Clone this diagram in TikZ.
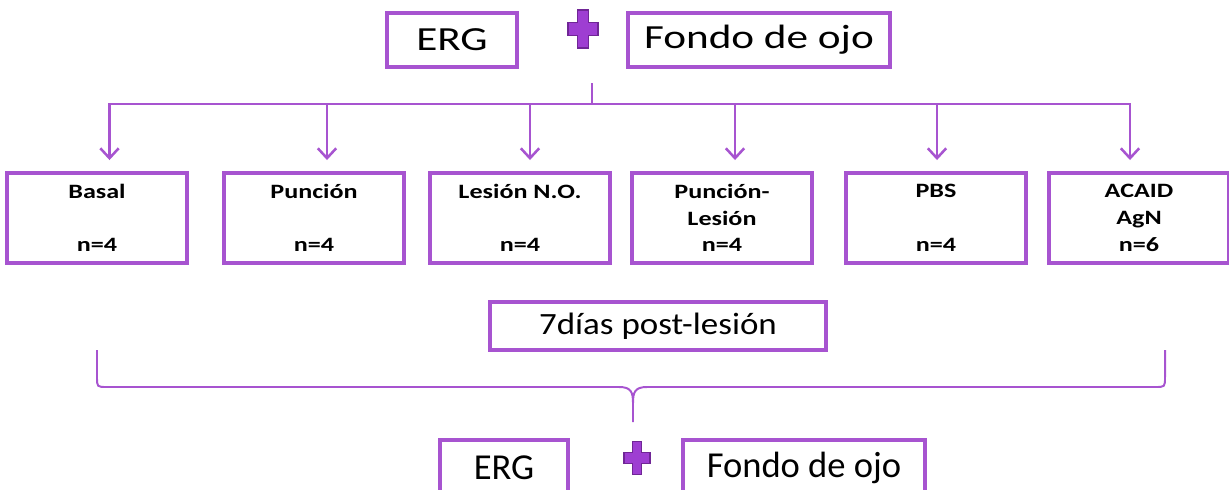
\documentclass[tikz,border=0pt]{standalone}
\usepackage{fontspec}
\setmainfont{Carlito}
\newfontfamily\widefont[FakeStretch=1.28]{Carlito}
\newfontfamily\midfont[FakeStretch=1.13]{Carlito}
\usetikzlibrary{arrows.meta,calc}
\definecolor{boxpurple}{RGB}{167,84,208}
\definecolor{pluspurple}{RGB}{158,62,210}
\definecolor{plusedge}{RGB}{112,38,150}
\tikzset{
  headbox/.style={draw=boxpurple, line width=2.8pt, inner sep=0pt, minimum height=1.35cm,
    font=\widefont\fontsize{24}{28}\selectfont},
  groupbox/.style={draw=boxpurple, line width=2.8pt, inner sep=0pt, minimum width=4.5cm,
    minimum height=2.25cm, align=center, font=\widefont\bfseries\fontsize{14.5}{19}\selectfont},
  daybox/.style={draw=boxpurple, line width=2.8pt, inner sep=0pt, minimum width=8.4cm,
    minimum height=1.2cm, font=\midfont\fontsize{22}{26}\selectfont},
  footbox/.style={draw=boxpurple, line width=2.8pt, inner sep=0pt, minimum height=1.4cm,
    font=\fontsize{26}{30}\selectfont},
  link/.style={draw=boxpurple, line width=1.8pt},
  linkarrow/.style={link, -{Straight Barb[length=7pt,width=13pt]}},
  pluspic/.pic={
    \filldraw[fill=pluspurple, draw=plusedge, line width=0.8pt]
      (-5.5,-19) -- (5.5,-19) -- (5.5,-6.5) -- (15,-6.5) -- (15,6.5) -- (5.5,6.5)
      -- (5.5,19) -- (-5.5,19) -- (-5.5,6.5) -- (-15,6.5) -- (-15,-6.5) -- (-5.5,-6.5) -- cycle;
  }
}
\begin{document}
\begin{tikzpicture}[x=0.025cm,y=-0.025cm]
    \useasboundingbox (0,0) rectangle (1229,489);
    \clip (0,0) rectangle (1229,489);
    % Before
    \node[headbox, minimum width=3.25cm] (ergtop) at (452,40) {ERG};
    \node[headbox, minimum width=6.55cm] (fondotop) at (759,40) {Fondo de ojo};
    \pic at (583,29) {pluspic};
    % Groups
    \node[groupbox] (basal) at (97,218) {Basal\\[\baselineskip]n=4};
    \node[groupbox] (puncion) at (314,218) {Punción\\[\baselineskip]n=4};
    \node[groupbox] (lesion) at (520,218) {Lesión N.O.\\[\baselineskip]n=4};
    \node[groupbox] (punles) at (722,218) {Punción-\\Lesión\\n=4};
    \node[groupbox] (pbs) at (936,218) {PBS\\[\baselineskip]n=4};
    \node[groupbox] (acaid) at (1139,218) {ACAID\\AgN\\n=6};
    % Tree
    \coordinate (hubtop) at (592,83);
    \coordinate (hub) at (592,104);
    \draw[link] (hubtop) -- (hub);
    \foreach \grp/\dx in {basal/12.5,puncion/13,lesion/10,punles/13,pbs/1,acaid/-9}
        \draw[linkarrow] (hub) -| ($(\grp.north)+(\dx,-11)$);
    % After
    \node[daybox] (dias) at (658,326) {7días post-lesión};
    \coordinate (braceL) at (97,350);
    \coordinate (braceR) at (1165,350);
    \coordinate (braceTip) at (633,422);
    \draw[boxpurple, line width=1.4pt] (braceL) -- (97,377) .. controls (97,387) .. (107,387)
        -- (619,387) .. controls (631,387) and (633,392) .. (633,403) -- (braceTip);
    \draw[boxpurple, line width=1.4pt] (braceR) -- (1165,377) .. controls (1165,387) .. (1155,387)
        -- (647,387) .. controls (635,387) and (633,392) .. (633,403);
    \node[footbox, minimum width=3.2cm] (ergbot) at (504,468) {ERG};
    \node[footbox, minimum width=6.05cm] (fondobot) at (804,468) {Fondo de ojo};
    \pic[scale=.87] at (637,458) {pluspic};
\end{tikzpicture}
\end{document}
